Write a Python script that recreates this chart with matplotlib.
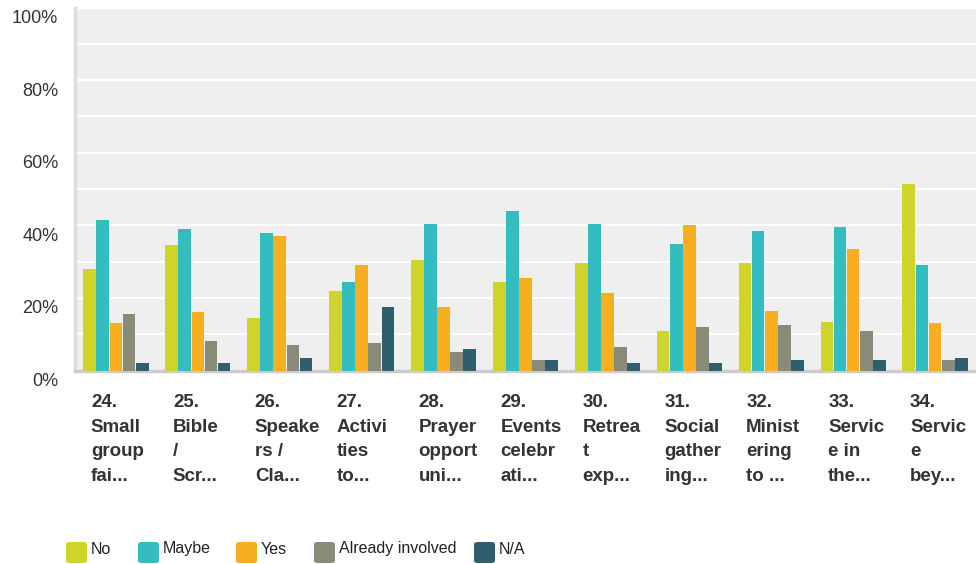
import matplotlib
matplotlib.use("Agg")
import matplotlib.pyplot as plt
import matplotlib.transforms as mtransforms
import numpy as np
from matplotlib.patches import FancyBboxPatch

categories = ["24.\nSmall\ngroup\nfai...", "25.\nBible\n/\nScr...", "26.\nSpeake\nrs /\nCla...",
              "27.\nActivi\nties\nto...", "28.\nPrayer\nopport\nuni...", "29.\nEvents\ncelebr\nati...",
              "30.\nRetrea\nt\nexp...", "31.\nSocial\ngather\ning...", "32.\nMinist\nering\nto ...",
              "33.\nServic\ne in\nthe...", "34.\nServic\ne\nbey..."]
series_names = ["No", "Maybe", "Yes", "Already involved", "N/A"]
no_vals      = [28.0, 34.6, 14.5, 21.9, 30.4, 24.4, 29.6, 10.9, 29.6, 13.4, 51.4]
maybe_vals   = [41.4, 39.0, 37.9, 24.4, 40.4, 43.9, 40.4, 34.8, 38.5, 39.5, 29.1]
yes_vals     = [13.1, 16.1, 37.1, 29.1, 17.5, 25.5, 21.4, 40.1, 16.4, 33.5, 13.1]
already_vals = [15.6, 8.1, 7.0, 7.6, 5.1, 2.9, 6.5, 12.0, 12.5, 10.9, 2.9]
na_vals      = [2.1, 2.1, 3.4, 17.5, 5.9, 2.9, 2.1, 2.1, 2.9, 2.9, 3.4]
yticks = [0, 20, 40, 60, 80, 100]
colors = ["#CFD42A", "#33BDC0", "#F7AE1F", "#8A8A78", "#2D5F6C"]

plt.rcParams['font.family'] = ['Liberation Sans', 'DejaVu Sans']
fig = plt.figure(figsize=(9.76, 5.64), dpi=100)
ax = fig.add_axes([75/976, 193.5/564, 901/976, 363/564])
ax.set_facecolor("#EFEFEF")

data = [no_vals, maybe_vals, yes_vals, already_vals, na_vals]
x = np.arange(len(categories))
w = 0.16
for i, (vals, c) in enumerate(zip(data, colors)):
    ax.bar(x + (i - 2) * w, vals, width=w * 0.97, color=c, zorder=3)

ax.set_xlim(-0.5, len(categories) - 0.5)
ax.set_ylim(0, 100)
ax.set_yticks(yticks)
ax.set_yticklabels([f"{t}%" for t in yticks], fontsize=13, color="#333333")
ax.set_yticks(np.arange(10, 100, 10), minor=True)
ax.tick_params(axis='y', which='both', length=0, pad=12)
offset = mtransforms.ScaledTranslation(0, -9/100, fig.dpi_scale_trans)
for lbl in ax.get_yticklabels():
    lbl.set_transform(lbl.get_transform() + offset)
ax.set_xticks([])
ax.grid(axis='y', which='both', color='white', lw=1.6, zorder=1)
for s in ['top', 'right']:
    ax.spines[s].set_visible(False)
ax.spines['left'].set_color('#DDDDDD')
ax.spines['left'].set_linewidth(2.5)
ax.spines['bottom'].set_color('#CCCCCC')
ax.spines['bottom'].set_linewidth(2.5)

trans = mtransforms.blended_transform_factory(ax.transData, fig.transFigure)
for xi, lab in zip(x, categories):
    ax.text(xi - 0.305, 1 - 394/564, lab, transform=trans, ha='left', va='top',
            fontsize=13.5, fontweight='bold', color='#333333', linespacing=1.58)

# legend
leg_x = [66, 138, 236, 314, 474]
for lx, name, c in zip(leg_x, series_names, colors):
    p = FancyBboxPatch((lx/976, (564-563)/564), 21/976, 21/564,
                       boxstyle="round,pad=0,rounding_size=0.004",
                       transform=fig.transFigure, facecolor=c, edgecolor='none')
    fig.patches.append(p)
    fig.text((lx + 25)/976, (564-549)/564, name, ha='left', va='center',
             fontsize=11.5, color='#222222')

fig.savefig("out.png", dpi=100)
